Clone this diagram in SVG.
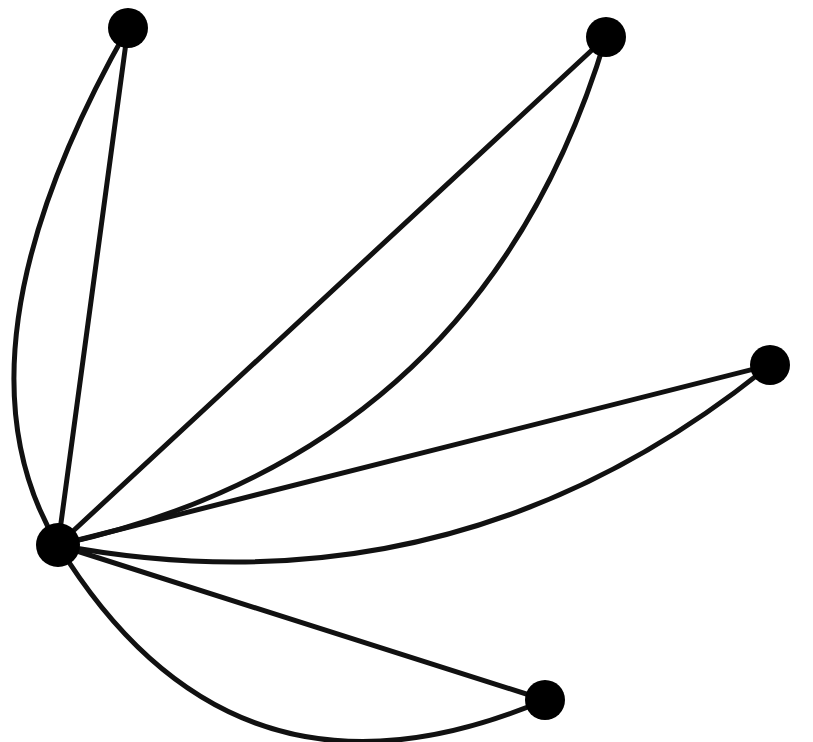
<svg xmlns="http://www.w3.org/2000/svg" width="813" height="742" viewBox="0 0 813 742">
<style>
.e{fill:none;stroke:#111;stroke-width:5;stroke-linecap:round}
.n{fill:#000}
</style>
<rect width="813" height="742" fill="#fff"/>
<g id="edges">
<path class="e" d="M58,545 L128,28"/>
<path class="e" d="M58,545 Q-57,354 128,28"/>
<path class="e" d="M58,545 L606,37"/>
<path class="e" d="M58,545 Q482,452 606,37"/>
<path class="e" d="M58,545 L770,365"/>
<path class="e" d="M58,545 Q456,620 770,365"/>
<path class="e" d="M58,545 L545,700"/>
<path class="e" d="M58,545 Q234,832 545,700"/>
</g>
<g id="hub"><circle class="n" cx="58" cy="545" r="22"/></g>
<g id="n1"><circle class="n" cx="128" cy="28" r="20"/></g>
<g id="n2"><circle class="n" cx="606" cy="37" r="20"/></g>
<g id="n3"><circle class="n" cx="770" cy="365" r="20"/></g>
<g id="n4"><circle class="n" cx="545" cy="700" r="20"/></g>
</svg>
